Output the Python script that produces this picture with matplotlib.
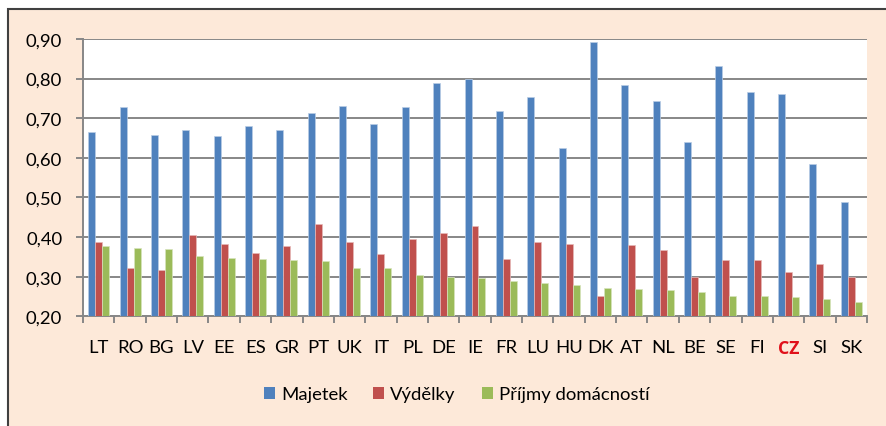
import matplotlib
matplotlib.use("Agg")
import matplotlib.pyplot as plt
from matplotlib.patches import Rectangle, Patch
from matplotlib.ticker import FixedLocator, FuncFormatter
import numpy as np

countries = ["LT", "RO", "BG", "LV", "EE", "ES", "GR", "PT", "UK", "IT", "PL", "DE",
             "IE", "FR", "LU", "HU", "DK", "AT", "NL", "BE", "SE", "FI", "CZ", "SI", "SK"]
majetek = [0.665, 0.729, 0.658, 0.670, 0.656, 0.680, 0.670, 0.713, 0.732, 0.686, 0.729, 0.789,
           0.799, 0.719, 0.753, 0.624, 0.893, 0.785, 0.743, 0.640, 0.832, 0.766, 0.761, 0.584, 0.489]
vydelky = [0.387, 0.321, 0.316, 0.405, 0.382, 0.359, 0.378, 0.432, 0.388, 0.357, 0.394, 0.410,
           0.428, 0.345, 0.387, 0.382, 0.250, 0.379, 0.367, 0.300, 0.342, 0.342, 0.313, 0.332, 0.298]
prijmy = [0.378, 0.372, 0.369, 0.352, 0.346, 0.345, 0.341, 0.339, 0.323, 0.323, 0.304, 0.300,
          0.296, 0.290, 0.283, 0.280, 0.271, 0.270, 0.266, 0.261, 0.250, 0.250, 0.248, 0.244, 0.235]
series_names = ["Majetek", "Výdělky", "Příjmy domácností"]
y_ticks = [0.20, 0.30, 0.40, 0.50, 0.60, 0.70, 0.80, 0.90]
highlight = "CZ"

colors = ["#4F81BD", "#C0504D", "#9BBB59"]
edges = ["#B9CDE5", "#E6B9B8", "#D7E4BD"]

plt.rcParams["font.family"] = ["Lato", "DejaVu Sans"]
FS = 13.3

fig = plt.figure(figsize=(8.86, 4.27), dpi=100)
fig.patch.set_facecolor("white")
frame = Rectangle((8 / 886, -0.1), 1.2, 1 - 10 / 427 + 0.1,
                  transform=fig.transFigure, facecolor="#FDE9D9",
                  edgecolor="#404040", linewidth=1.5, zorder=-5)
fig.patches.append(frame)

ax = fig.add_axes([83 / 886, 1 - 317.3 / 427, 784 / 886, 277.3 / 427])
ax.set_zorder(1)
ax.set_facecolor("white")

x = np.arange(len(countries))
w = 0.223
for i, vals in enumerate([majetek, vydelky, prijmy]):
    base = y_ticks[0]
    ax.bar(x + (i - 1) * w, np.array(vals) - base, width=w, bottom=base,
           color=colors[i], edgecolor=edges[i], linewidth=0.5, zorder=3,
           label=series_names[i])

ax.set_xlim(-0.5, len(countries) - 0.5)
ax.set_ylim(y_ticks[0], y_ticks[-1])
ax.yaxis.set_major_locator(FixedLocator(y_ticks))
ax.yaxis.set_major_formatter(FuncFormatter(lambda v, p: f"{v:.2f}".replace(".", ",")))
ax.grid(axis="y", color="#878787", linewidth=1.4, zorder=1)
ax.set_axisbelow(True)

for s in ["top", "right"]:
    ax.spines[s].set_visible(False)
for s in ["left", "bottom"]:
    ax.spines[s].set_color("#878787")
    ax.spines[s].set_linewidth(1.4)

ax.tick_params(axis="y", length=5, width=1.4, color="#878787", pad=10,
               labelsize=FS, labelcolor="black")
ax.set_xticks(x)
ax.set_xticklabels(countries)
ax.set_xticks(np.arange(-0.5, len(countries), 1), minor=True)
ax.tick_params(axis="x", which="major", length=0, pad=16, labelsize=FS)
ax.tick_params(axis="x", which="minor", length=5, width=1.4, color="#878787")
for lbl in ax.get_xticklabels():
    if lbl.get_text() == highlight:
        lbl.set_color("#E0101A")
        lbl.set_fontfamily(["Open Sans", "DejaVu Sans"])
        lbl.set_fontweight("bold")
        lbl.set_fontsize(FS - 0.5)

handles = [Patch(facecolor=c) for c in colors]
fig.legend(handles, series_names, loc="center", bbox_to_anchor=(456.5 / 886, 1 - 395.5 / 427),
           ncol=3, frameon=False, fontsize=FS, handlelength=0.6, handleheight=0.6,
           handletextpad=0.32, columnspacing=1.4)

fig.savefig("out.png", dpi=100, facecolor=fig.get_facecolor())
